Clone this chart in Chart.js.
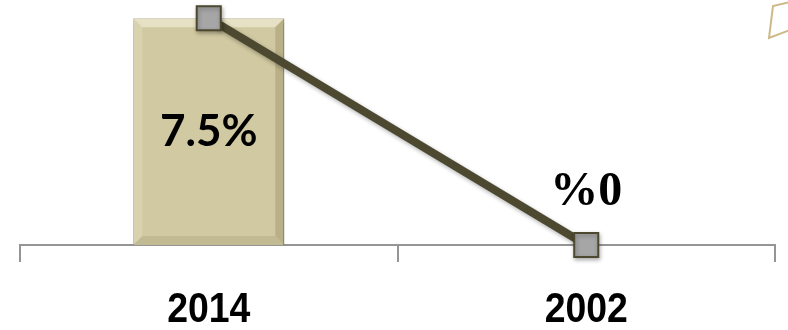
<!DOCTYPE html>
<html>
<head>
<meta charset="utf-8">
<script src="https://cdn.jsdelivr.net/npm/chart.js@4/dist/chart.umd.min.js"></script>
<style>
  html, body { margin: 0; padding: 0; background: #ffffff; }
  #wrap { width: 788px; height: 330px; position: relative; }
</style>
</head>
<body>
<div id="wrap"><canvas id="c" width="788" height="330"></canvas></div>
<script>
// Years compared and the share for each year
const categories = ['2014', '2002'];
const barValues = [7.5, null];
const lineValues = [7.5, 0];
const valueLabels = ['7.5%', '%0'];

// Value labels: bar label centred in the bar, line label above its point
const valueLabelPlugin = {
  id: 'valueLabels',
  afterDatasetsDraw(chart) {
    const ctx = chart.ctx;
    const barMeta = chart.getDatasetMeta(0);
    const lineMeta = chart.getDatasetMeta(1);
    ctx.save();
    ctx.fillStyle = '#000000';
    ctx.textAlign = 'center';
    ctx.textBaseline = 'middle';
    categories.forEach((c, i) => {
      if (barValues[i] !== null) {
        const bar = barMeta.data[i];
        ctx.font = 'bold 44px Lato, "Open Sans", sans-serif';
        ctx.fillText(valueLabels[i], bar.x, (bar.y + bar.base) / 2);
      } else {
        const pt = lineMeta.data[i];
        ctx.font = 'bold 48px "Liberation Serif", serif';
        ctx.fillText(valueLabels[i], pt.x, pt.y - 52);
      }
    });
    ctx.restore();
  }
};

// Condensed category labels under the axis, placed at the x scale's tick positions
const categoryLabelPlugin = {
  id: 'categoryLabels',
  afterDraw(chart) {
    const ctx = chart.ctx;
    const xs = chart.scales.x;
    ctx.save();
    ctx.fillStyle = '#000000';
    ctx.textAlign = 'center';
    ctx.textBaseline = 'middle';
    ctx.font = 'bold 43px "Liberation Sans", Arial, sans-serif';
    categories.forEach((c, i) => {
      const x = xs.getPixelForTick(i);
      ctx.save();
      ctx.translate(x, xs.bottom + 48);
      ctx.scale(0.87, 1);
      ctx.fillText(c, 0, 0);
      ctx.restore();
    });
    ctx.restore();
  }
};

// Soft shadow and bevel edges on the bar, light shadow under the line
const barStylePlugin = {
  id: 'barStyle',
  beforeDatasetDraw(chart, args) {
    const ctx = chart.ctx;
    ctx.save();
    if (args.index === 0) {
      ctx.shadowColor = 'rgba(0,0,0,0.35)';
      ctx.shadowBlur = 6;
      ctx.shadowOffsetX = 2;
      ctx.shadowOffsetY = 3;
    } else {
      ctx.shadowColor = 'rgba(0,0,0,0.3)';
      ctx.shadowBlur = 4;
      ctx.shadowOffsetX = 1;
      ctx.shadowOffsetY = 2;
    }
  },
  afterDatasetDraw(chart, args) {
    const ctx = chart.ctx;
    ctx.restore();
    if (args.index === 0) {
      const meta = chart.getDatasetMeta(0);
      meta.data.forEach((bar, i) => {
        if (barValues[i] === null) return;
        const l = bar.x - bar.width / 2, r = bar.x + bar.width / 2;
        const t = bar.y, b = bar.base, e = 9;
        ctx.save();
        ctx.fillStyle = 'rgba(255,255,240,0.45)';
        ctx.beginPath();
        ctx.moveTo(l, t); ctx.lineTo(r, t); ctx.lineTo(r - e, t + e); ctx.lineTo(l + e, t + e);
        ctx.closePath(); ctx.fill();
        ctx.fillStyle = 'rgba(255,255,240,0.18)';
        ctx.beginPath();
        ctx.moveTo(l, t); ctx.lineTo(l + e, t + e); ctx.lineTo(l + e, b - e); ctx.lineTo(l, b);
        ctx.closePath(); ctx.fill();
        ctx.fillStyle = 'rgba(90,80,40,0.2)';
        ctx.beginPath();
        ctx.moveTo(r, t); ctx.lineTo(r - e, t + e); ctx.lineTo(r - e, b - e); ctx.lineTo(r, b);
        ctx.closePath(); ctx.fill();
        ctx.fillStyle = 'rgba(90,80,40,0.12)';
        ctx.beginPath();
        ctx.moveTo(l, b); ctx.lineTo(l + e, b - e); ctx.lineTo(r - e, b - e); ctx.lineTo(r, b);
        ctx.closePath(); ctx.fill();
        ctx.restore();
      });
    }
  }
};

// Decorative outline in the top-right corner
const cornerPlugin = {
  id: 'corner',
  afterDraw(chart) {
    const ctx = chart.ctx;
    ctx.save();
    ctx.strokeStyle = '#cdb888';
    ctx.lineWidth = 2;
    ctx.beginPath();
    ctx.moveTo(790, 2);
    ctx.lineTo(773, 6);
    ctx.lineTo(769, 38);
    ctx.lineTo(790, 30);
    ctx.stroke();
    ctx.restore();
  }
};

new Chart(document.getElementById('c'), {
  data: {
    labels: categories,
    datasets: [
      {
        type: 'bar',
        data: barValues,
        backgroundColor: '#d1c9a1',
        borderColor: '#a59e78',
        borderWidth: 1,
        barPercentage: 0.4,
        categoryPercentage: 1.0,
        clip: false,
        order: 2
      },
      {
        type: 'line',
        data: lineValues,
        borderColor: '#4c4930',
        borderWidth: 8,
        pointStyle: 'rect',
        pointRadius: 17,
        pointHoverRadius: 17,
        pointBackgroundColor: '#a6a6a6',
        pointBorderColor: '#4c4930',
        pointBorderWidth: 2,
        clip: false,
        order: 1
      }
    ]
  },
  options: {
    responsive: false,
    animation: false,
    events: [],
    layout: { autoPadding: false, padding: { left: 20, right: 13, top: 0, bottom: 68 } },
    plugins: { legend: { display: false }, tooltip: { enabled: false } },
    scales: {
      y: { display: false, min: 0, max: 8.1 },
      x: {
        offset: true,
        border: { display: true, color: '#959595', width: 2 },
        grid: { offset: true, drawOnChartArea: false, drawTicks: true, tickLength: 17, color: '#959595', lineWidth: 2 },
        ticks: { display: false }
      }
    }
  },
  plugins: [barStylePlugin, valueLabelPlugin, categoryLabelPlugin, cornerPlugin]
});
</script>
</body>
</html>
